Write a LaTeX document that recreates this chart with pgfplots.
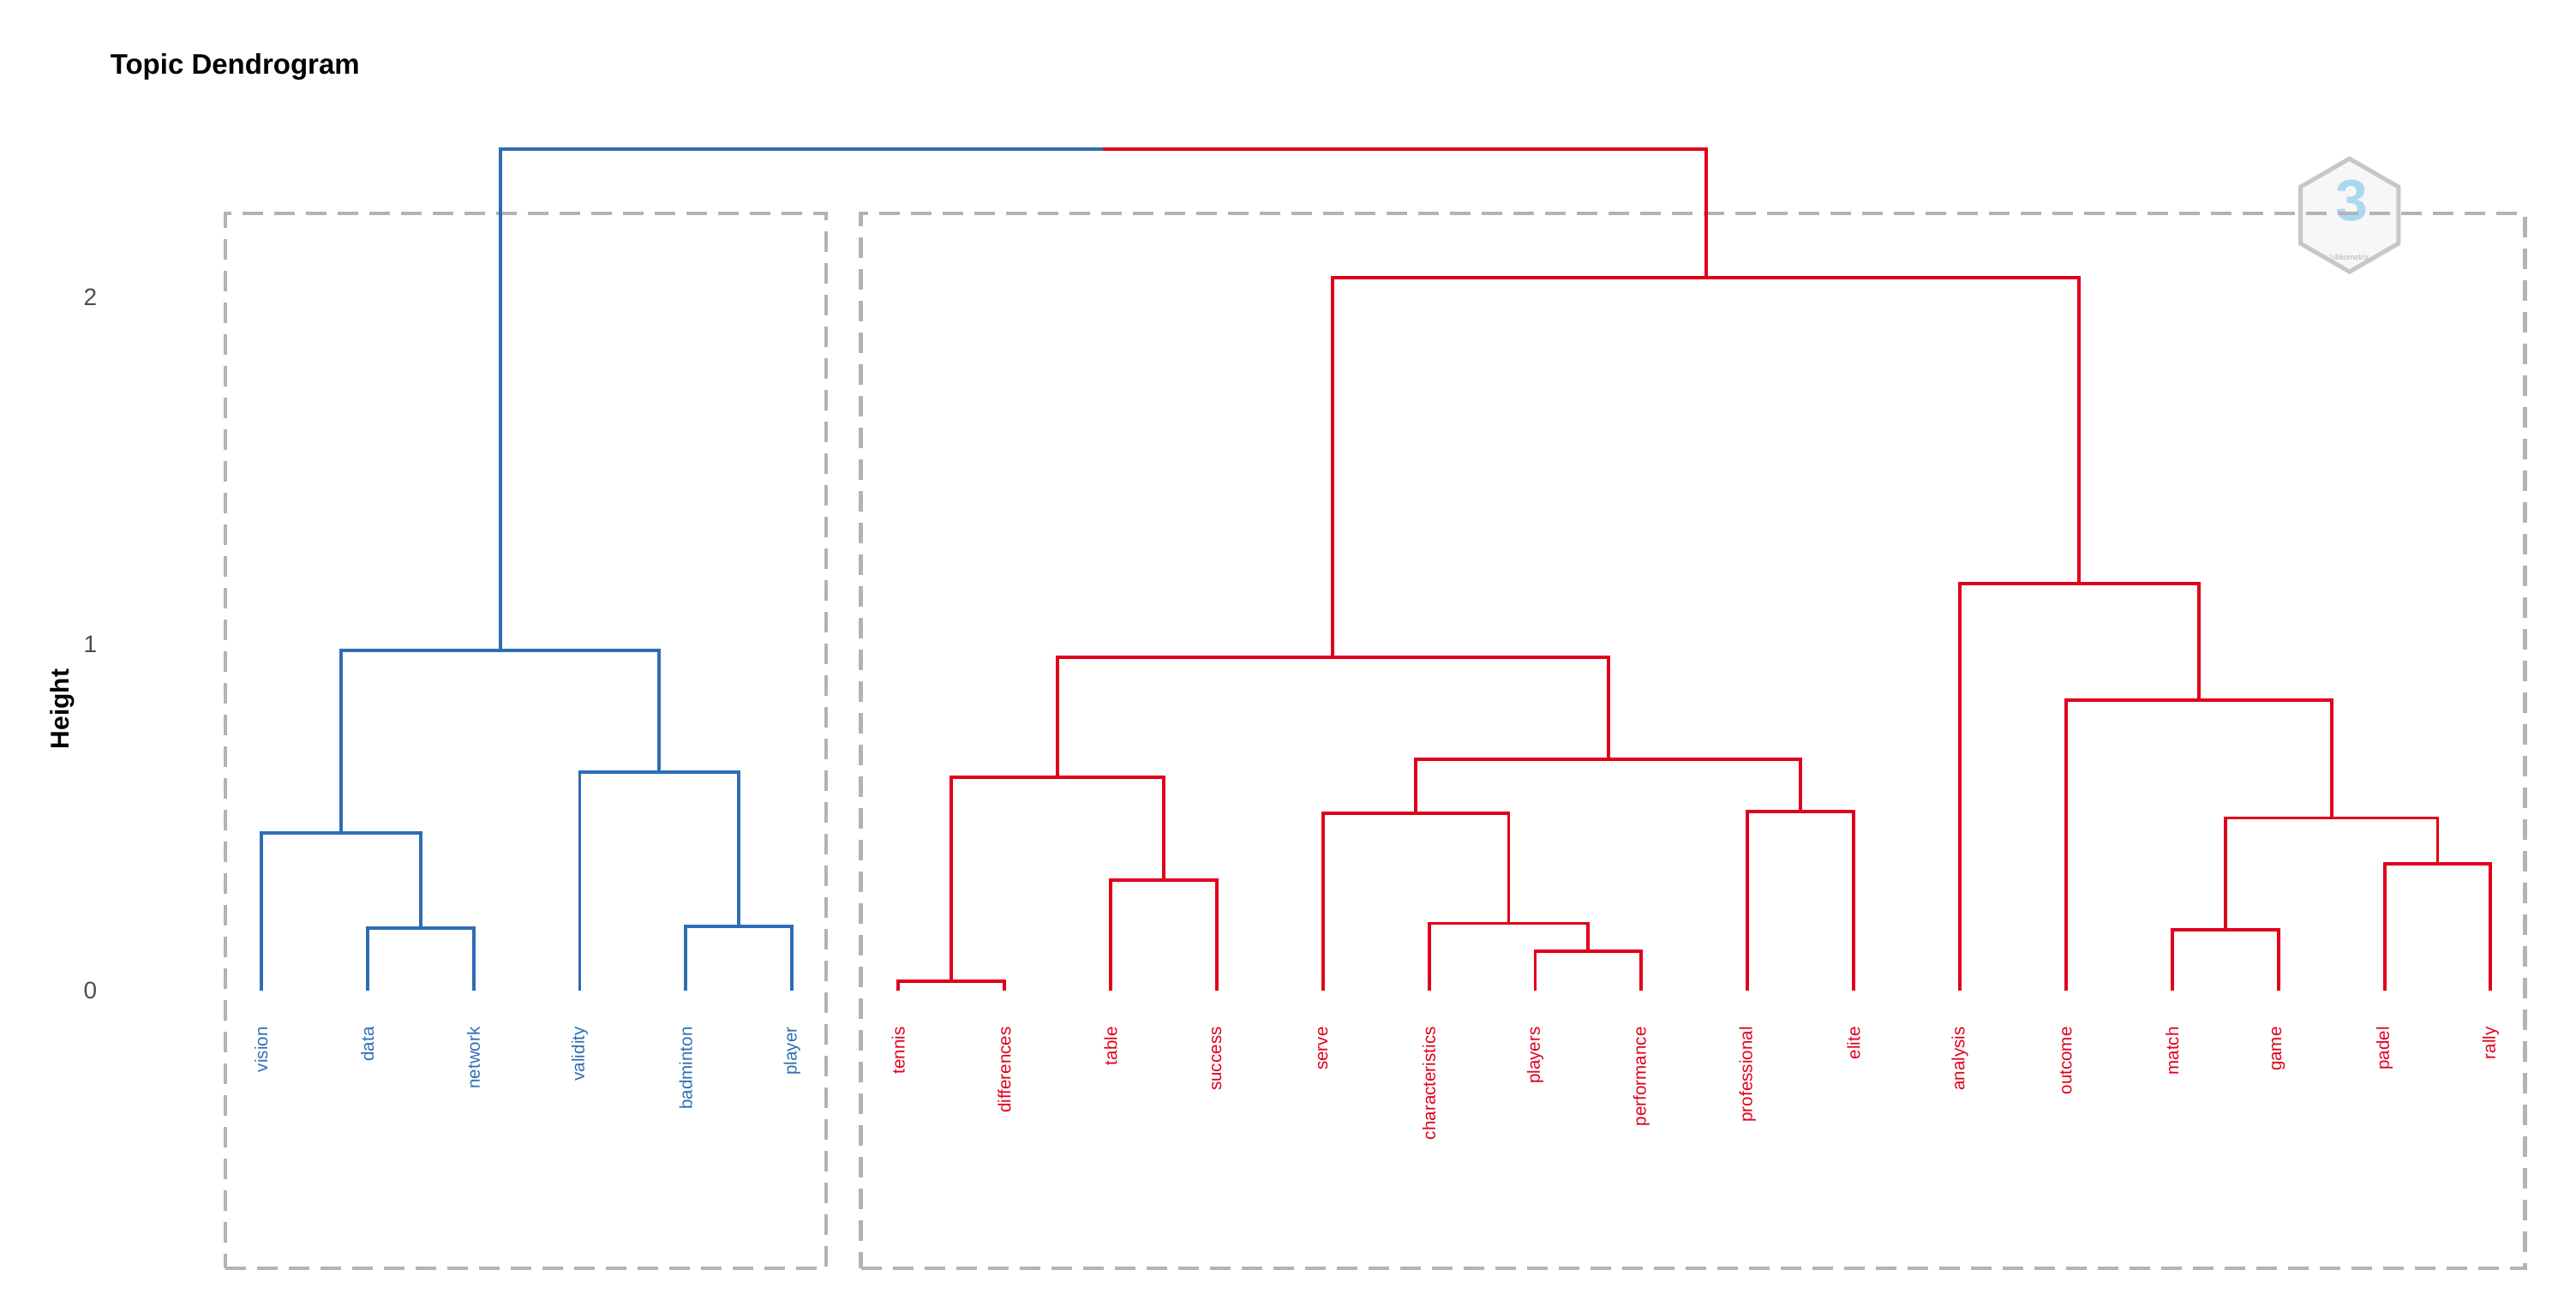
\documentclass[border=0pt]{standalone}
\usepackage{fontspec}
\setmainfont{Liberation Sans}
\usepackage{pgfplots}
\pgfplotsset{compat=1.18}
\usetikzlibrary{shapes.geometric}

\definecolor{cluBlue}{HTML}{2E6DB4}
\definecolor{cluRed}{HTML}{E0001B}
\definecolor{boxGray}{HTML}{B3B3B3}
\definecolor{tickGray}{HTML}{4D4D4D}
\definecolor{logoBlue}{HTML}{A9D9F2}

\pgfplotsset{
  link/.style={line width=1.95pt, line join=miter, line cap=butt, mark=none},
  clubox/.style={boxGray, line width=2.1pt, dash pattern=on 12pt off 6.5pt, mark=none},
  leaflab/.style={draw=none, mark=none, nodes near coords, point meta=explicit symbolic,
    nodes near coords style={rotate=90, anchor=east, inner sep=0pt, font=\fontsize{10.3}{10.3}\selectfont}},
}

% leaf positions and labels (label anchor just under height 0)
\pgfplotstableread{
x y lab
1 -0.104 vision
2 -0.104 data
3 -0.104 network
4 -0.104 validity
5 -0.104 badminton
6 -0.104 player
}\blueleaves
\pgfplotstableread{
x y lab
7 -0.104 tennis
8 -0.104 differences
9 -0.104 table
10 -0.104 success
11 -0.104 serve
12 -0.104 characteristics
13 -0.104 players
14 -0.104 performance
15 -0.104 professional
16 -0.104 elite
17 -0.104 analysis
18 -0.104 outcome
19 -0.104 match
20 -0.104 game
21 -0.104 padel
22 -0.104 rally
}\redleaves

\begin{document}
\begin{tikzpicture}
\begin{axis}[
    scale only axis, width=1503pt, height=762pt,
    xmin=-1.4605, xmax=22.804, ymin=-0.910, ymax=2.858,
    clip=false,
    axis line style={draw=none}, tick style={draw=none},
    xtick=\empty, ytick={0,1,2},
    /pgf/number format/assume math mode=true,
    yticklabel style={anchor=center, xshift=52.7pt, text=tickGray, font=\fontsize{14}{14}\selectfont},
    ylabel={\textbf{Height}},
    ylabel style={at={(axis description cs:0.0243,0.457)}, anchor=center, font=\fontsize{15}{15}\selectfont},
    title={\textbf{Topic Dendrogram}},
    title style={at={(axis description cs:0.0405,0.941)}, anchor=west, yshift=0pt, font=\fontsize{16.5}{16.5}\selectfont},
  ]

  % bibliometrix logo
  \node[regular polygon, regular polygon sides=6, shape border rotate=30, minimum size=66pt,
        draw=black!22, line width=2.5pt, fill=black!3, inner sep=0pt] at (axis cs:20.67,2.237) {};
  \node[text=logoBlue, font=\fontsize{34}{34}\selectfont\bfseries] at (axis cs:20.69,2.28) {3};
  \node[text=black!30, font=\fontsize{4.5}{4.5}\selectfont] at (axis cs:20.67,2.115) {\textcolor{logoBlue}{b}ibliometrix};

  % cluster boxes
  \addplot[clubox] coordinates {(0.660,-0.801) (6.323,-0.801) (6.323,2.242) (0.660,2.242) (0.660,-0.801)};
  \addplot[clubox] coordinates {(6.648,-0.801) (22.324,-0.801) (22.324,2.242) (6.648,2.242) (6.648,-0.801)};

  % blue cluster
  \addplot[link, cluBlue] coordinates {(2,0) (2,0.180) (3,0.180) (3,0)};
  \addplot[link, cluBlue] coordinates {(1,0) (1,0.455) (2.5,0.455) (2.5,0.180)};
  \addplot[link, cluBlue] coordinates {(5,0) (5,0.185) (6,0.185) (6,0)};
  \addplot[link, cluBlue] coordinates {(4,0) (4,0.630) (5.5,0.630) (5.5,0.185)};
  \addplot[link, cluBlue] coordinates {(1.75,0.455) (1.75,0.981) (4.75,0.981) (4.75,0.630)};

  % red cluster
  \addplot[link, cluRed] coordinates {(7,0) (7,0.028) (8,0.028) (8,0)};
  \addplot[link, cluRed] coordinates {(9,0) (9,0.318) (10,0.318) (10,0)};
  \addplot[link, cluRed] coordinates {(7.5,0.028) (7.5,0.616) (9.5,0.616) (9.5,0.318)};
  \addplot[link, cluRed] coordinates {(13,0) (13,0.114) (14,0.114) (14,0)};
  \addplot[link, cluRed] coordinates {(12,0) (12,0.194) (13.5,0.194) (13.5,0.114)};
  \addplot[link, cluRed] coordinates {(11,0) (11,0.512) (12.75,0.512) (12.75,0.194)};
  \addplot[link, cluRed] coordinates {(15,0) (15,0.517) (16,0.517) (16,0)};
  \addplot[link, cluRed] coordinates {(11.875,0.512) (11.875,0.668) (15.5,0.668) (15.5,0.517)};
  \addplot[link, cluRed] coordinates {(8.5,0.616) (8.5,0.962) (13.6875,0.962) (13.6875,0.668)};
  \addplot[link, cluRed] coordinates {(19,0) (19,0.175) (20,0.175) (20,0)};
  \addplot[link, cluRed] coordinates {(21,0) (21,0.365) (22,0.365) (22,0)};
  \addplot[link, cluRed] coordinates {(19.5,0.175) (19.5,0.498) (21.5,0.498) (21.5,0.365)};
  \addplot[link, cluRed] coordinates {(18,0) (18,0.839) (20.5,0.839) (20.5,0.498)};
  \addplot[link, cluRed] coordinates {(17,0) (17,1.175) (19.25,1.175) (19.25,0.839)};
  \addplot[link, cluRed] coordinates {(11.09,0.962) (11.09,2.057) (18.125,2.057) (18.125,1.175)};

  % root link, split in colour at its midpoint
  \addplot[link, cluBlue] coordinates {(3.25,0.981) (3.25,2.427) (8.93,2.427)};
  \addplot[link, cluRed] coordinates {(8.93,2.427) (14.61,2.427) (14.61,2.057)};

  % leaf labels
  \addplot[leaflab, nodes near coords style={text=cluBlue}] table[x=x, y=y, meta=lab] {\blueleaves};
  \addplot[leaflab, nodes near coords style={text=cluRed}] table[x=x, y=y, meta=lab] {\redleaves};
\end{axis}
\end{tikzpicture}
\end{document}
